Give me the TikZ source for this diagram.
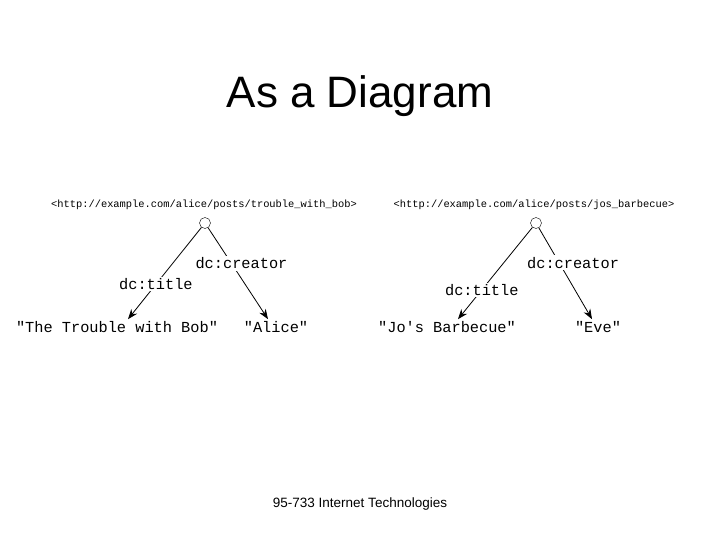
\documentclass[tikz,border=0pt]{standalone}
\usepackage{fontspec}
\setmainfont{Liberation Sans}
\newfontfamily\codefont{Liberation Mono}
\usetikzlibrary{arrows.meta,positioning}

\begin{document}
\begin{tikzpicture}[
  x=1pt, y=-1pt,
  >={Stealth[length=10pt,width=7.5pt]},
  uri/.style={font=\codefont\fontsize{10.4}{12}\selectfont, inner sep=1pt},
  lit/.style={font=\codefont\fontsize{15.3}{18}\selectfont, inner sep=2pt},
  prop/.style={font=\codefont\fontsize{15.3}{18}\selectfont, fill=white, inner sep=1.5pt},
  res/.style={draw, circle, fill=white, minimum size=11pt, inner sep=0pt},
  link/.style={->, line width=0.8pt},
]
\useasboundingbox (0,0) rectangle (720,540);

\node[font=\fontsize{44}{50}\selectfont] (title) at (360,96) {As a Diagram};

% first statement group
\node[uri] (uri1) at (204,205) {<http://example.com/alice/posts/trouble\_with\_bob>};
\node[res] (res1) at (205,223) {};
\node[lit] (bob) at (117,327) {"The Trouble with Bob"};
\node[lit] (alice) at (276,327) {"Alice"};

\draw[link] (res1) -- node[prop, pos=0.62] {dc:title} ([xshift=11]bob.north);
\draw[link] (res1) -- node[prop, pos=0.39, xshift=10] {dc:creator} ([xshift=-8]alice.north);

% second statement group
\node[uri] (uri2) at (534,205) {<http://example.com/alice/posts/jos\_barbecue>};
\node[res] (res2) at (536,223) {};
\node[lit] (jos) at (447,327) {"Jo's Barbecue"};
\node[lit] (eve) at (598,327) {"Eve"};

\draw[link] (res2) -- node[prop, pos=0.68] {dc:title} ([xshift=11]jos.north);
\draw[link] (res2) -- node[prop, pos=0.38, xshift=14] {dc:creator} ([xshift=-6]eve.north);

\node[font=\fontsize{13.5}{16}\selectfont] (footer) at (360,504) {95-733 Internet Technologies};
\end{tikzpicture}
\end{document}
